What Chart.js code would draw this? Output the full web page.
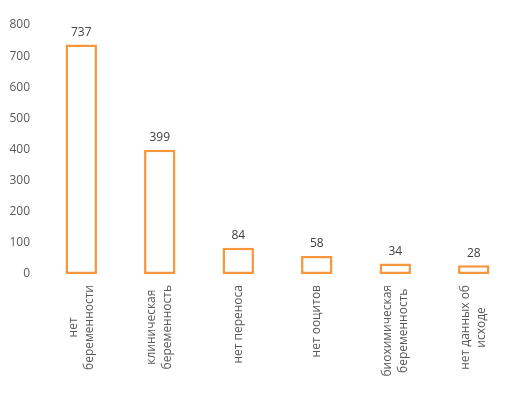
<!DOCTYPE html>
<html>
<head>
<meta charset="utf-8">
<script src="https://cdn.jsdelivr.net/npm/chart.js@4/dist/chart.umd.min.js"></script>
<style>
  html, body { margin: 0; padding: 0; background: #fff; }
  #wrap { width: 526px; height: 393px; }
</style>
</head>
<body>
<div id="wrap"><canvas id="c" width="526" height="393"></canvas></div>
<script>
const categories = [
  ['нет', 'беременности'],
  ['клиническая', 'беременность'],
  ['нет переноса'],
  ['нет ооцитов'],
  ['биохимическая', 'беременность'],
  ['нет данных об', 'исходе']
];
const counts = [737, 399, 84, 58, 34, 28];
const yTicks = [0, 100, 200, 300, 400, 500, 600, 700, 800];

const FONT = '"Open Sans", "Liberation Sans", sans-serif';
const ORANGE = '#F7963C';

// value labels above the bars
const valueLabels = {
  id: 'valueLabels',
  afterDatasetsDraw(chart) {
    const ctx = chart.ctx;
    const meta = chart.getDatasetMeta(0);
    ctx.save();
    ctx.font = '12px ' + FONT;
    ctx.fillStyle = '#404040';
    ctx.textAlign = 'center';
    ctx.textBaseline = 'middle';
    meta.data.forEach((bar, i) => {
      ctx.fillText(String(counts[i]), bar.x, bar.y - 12);
    });
    ctx.restore();
  }
};

// rotated category labels, lines centred on each other
const catLabels = {
  id: 'catLabels',
  afterDraw(chart) {
    const ctx = chart.ctx;
    const x = chart.scales.x;
    const lh = 16;
    ctx.save();
    ctx.font = '12px ' + FONT;
    ctx.fillStyle = '#595959';
    ctx.textBaseline = 'middle';
    ctx.textAlign = 'center';
    categories.forEach((lines, i) => {
      const px = x.getPixelForValue(i);
      const widths = lines.map(l => ctx.measureText(l).width);
      const maxW = Math.max(...widths);
      const top = x.top + 11;
      ctx.save();
      ctx.translate(px, top + maxW / 2);
      ctx.rotate(-Math.PI / 2);
      lines.forEach((l, j) => {
        const off = (j - (lines.length - 1) / 2) * lh;
        ctx.fillText(l, 0, off);
      });
      ctx.restore();
    });
    ctx.restore();
  }
};

new Chart(document.getElementById('c'), {
  type: 'bar',
  data: {
    labels: categories,
    datasets: [{
      data: counts,
      backgroundColor: '#ffffff',
      borderColor: ORANGE,
      borderWidth: 2.5,
      borderSkipped: false,
      barPercentage: 0.4,
      categoryPercentage: 1
    }]
  },
  options: {
    responsive: false,
    animation: false,
    layout: { padding: { top: 25, right: 13, left: 0, bottom: 0 } },
    plugins: { legend: { display: false }, tooltip: { enabled: false } },
    scales: {
      x: {
        grid: { display: false, drawTicks: false },
        border: { display: false },
        ticks: { display: false },
        afterFit(s) { s.height = 119; }
      },
      y: {
        min: 0, max: 800,
        afterBuildTicks(s) { s.ticks = yTicks.map(v => ({ value: v })); },
        grid: { display: false, drawTicks: false },
        border: { display: false },
        ticks: { color: '#595959', font: { family: FONT, size: 12 }, padding: 12 },
        afterFit(s) { s.width = 42; }
      }
    }
  },
  plugins: [valueLabels, catLabels]
});
</script>
</body>
</html>
